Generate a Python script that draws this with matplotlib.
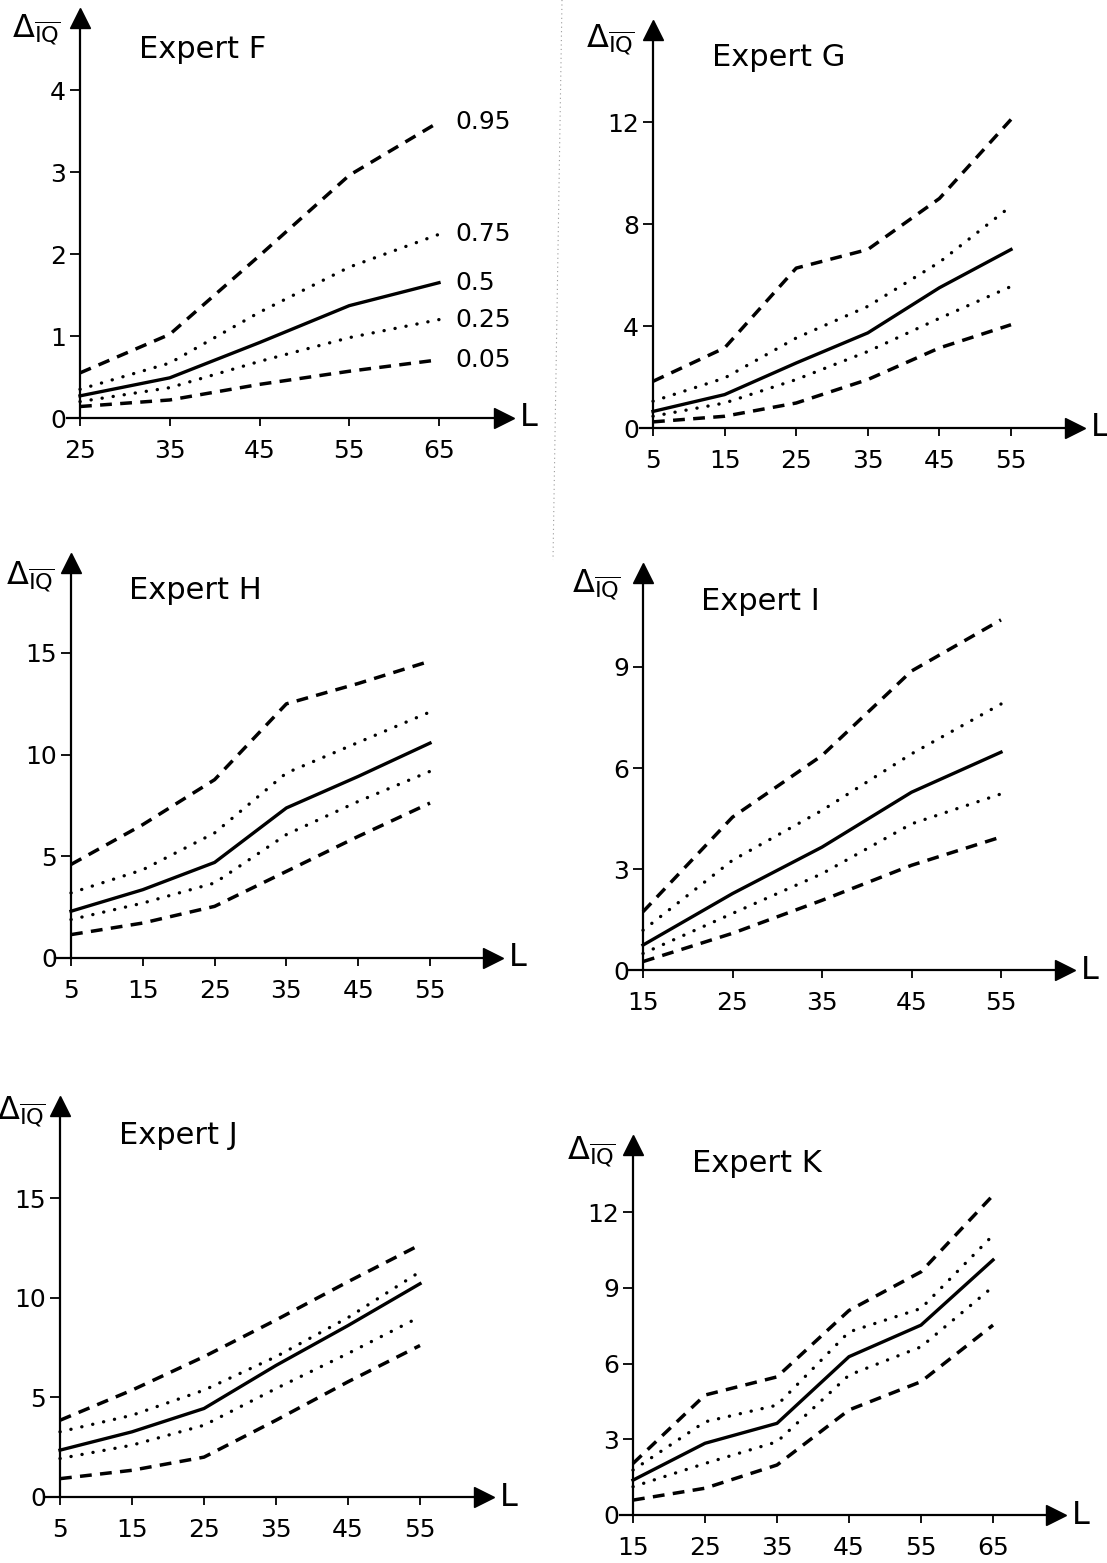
import matplotlib
matplotlib.use("Agg")
import matplotlib.pyplot as plt
from matplotlib.lines import Line2D

plt.rcParams['font.family'] = ['DejaVu Sans']
plt.rcParams['mathtext.fontset'] = 'dejavusans'

# ---------------- data ----------------
quantiles = ["0.95", "0.75", "0.5", "0.25", "0.05"]

L_F = [25, 35, 45, 55, 65]
F_q95 = [0.55, 1.02, 1.98, 2.96, 3.61]
F_q75 = [0.35, 0.67, 1.29, 1.84, 2.24]
F_q50 = [0.27, 0.49, 0.92, 1.37, 1.65]
F_q25 = [0.20, 0.37, 0.69, 0.98, 1.20]
F_q05 = [0.14, 0.22, 0.41, 0.57, 0.71]

L_G = [5, 15, 25, 35, 45, 55]
G_q95 = [1.83, 3.14, 6.27, 7.0, 9.0, 12.1]
G_q75 = [1.05, 1.96, 3.53, 4.77, 6.5, 8.7]
G_q50 = [0.65, 1.31, 2.55, 3.73, 5.5, 7.0]
G_q25 = [0.46, 0.98, 1.9, 3.0, 4.3, 5.55]
G_q05 = [0.24, 0.46, 0.98, 1.9, 3.14, 4.05]

L_H = [5, 15, 25, 35, 45, 55]
H_q95 = [4.6, 6.56, 8.77, 12.5, 13.5, 14.6]
H_q75 = [3.2, 4.34, 6.15, 9.1, 10.6, 12.1]
H_q50 = [2.3, 3.36, 4.7, 7.38, 8.93, 10.57]
H_q25 = [1.89, 2.7, 3.69, 6.07, 7.7, 9.18]
H_q05 = [1.15, 1.72, 2.54, 4.26, 5.98, 7.62]

L_I = [15, 25, 35, 45, 55]
I_q95 = [1.73, 4.54, 6.37, 8.88, 10.4]
I_q75 = [1.18, 3.26, 4.74, 6.42, 7.9]
I_q50 = [0.74, 2.27, 3.65, 5.28, 6.47]
I_q25 = [0.49, 1.68, 2.86, 4.34, 5.23]
I_q05 = [0.25, 1.09, 2.07, 3.11, 3.95]

L_J = [5, 15, 25, 35, 45, 55]
J_q95 = [3.85, 5.36, 7.04, 8.88, 10.8, 12.65]
J_q75 = [3.27, 4.1, 5.36, 7.04, 9.0, 11.3]
J_q50 = [2.35, 3.27, 4.44, 6.6, 8.6, 10.7]
J_q25 = [1.93, 2.6, 3.6, 5.44, 7.2, 9.04]
J_q05 = [0.92, 1.34, 2.0, 3.85, 5.78, 7.6]

L_K = [15, 25, 35, 45, 55, 65]
K_q95 = [2.04, 4.75, 5.47, 8.1, 9.63, 12.66]
K_q75 = [1.78, 3.69, 4.35, 7.25, 8.18, 11.08]
K_q50 = [1.38, 2.84, 3.63, 6.27, 7.52, 10.1]
K_q25 = [1.12, 2.04, 2.9, 5.54, 6.66, 9.04]
K_q05 = [0.59, 1.06, 1.98, 4.16, 5.28, 7.52]

F_yticks = [0, 1, 2, 3, 4]
G_yticks = [0, 4, 8, 12]
H_yticks = [0, 5, 10, 15]
I_yticks = [0, 3, 6, 9]
J_yticks = [0, 5, 10, 15]
K_yticks = [0, 3, 6, 9, 12]

# ---------------- figure ----------------
W, H = 1107, 1563
fig = plt.figure(figsize=(W / 100, H / 100), dpi=100)
fig.patch.set_facecolor("white")

DASH = dict(color="black", lw=2.5, linestyle=(0, (3.4, 2.4)), dash_capstyle="butt")
DOT = dict(color="black", lw=2.4, linestyle=(0, (0.05, 3.3)), dash_capstyle="round")
SOLID = dict(color="black", lw=2.4, linestyle="-")
STYLES = [DASH, DOT, SOLID, DOT, DASH]

TICK_FS = 18
TITLE_FS = 22
LABEL_FS = 23
DELTA_FS = 23


def panel(title, L, series, yticks, xpx, ypx, xstart_px, xtip_px, ytip_px,
          title_xy, delta_xy, curve_labels=False):
    (xa, pxa), (xb, pxb) = xpx
    (ya, pya), (yb, pyb) = ypx
    sx = (pxb - pxa) / (xb - xa)
    sy = (pya - pyb) / (yb - ya)
    left, right = xstart_px - 2, xtip_px + 12
    top, bottom = ytip_px - 12, pya + 2
    xd = lambda px: xa + (px - pxa) / sx
    yd = lambda py: ya + (pya - py) / sy
    ax = fig.add_axes([left / W, 1 - bottom / H, (right - left) / W, (bottom - top) / H])
    ax.set_xlim(xd(left), xd(right))
    ax.set_ylim(yd(bottom), yd(top))
    ax.patch.set_alpha(0)
    for s in ["top", "right"]:
        ax.spines[s].set_visible(False)
    x0 = L[0]
    ax.spines["left"].set_position(("data", x0))
    ax.spines["bottom"].set_position(("data", 0))
    ax.spines["left"].set_bounds(0, yd(ytip_px))
    ax.spines["bottom"].set_bounds(xd(xstart_px), xd(xtip_px))
    for s in ["left", "bottom"]:
        ax.spines[s].set_linewidth(1.6)
    ax.plot([xd(xtip_px)], [0], marker=">", ms=14, color="black", clip_on=False, zorder=5)
    ax.plot([x0], [yd(ytip_px)], marker="^", ms=14, color="black", clip_on=False, zorder=5)

    ax.set_xticks(L)
    ax.set_xticklabels([str(v) for v in L])
    ax.set_yticks(yticks)
    ax.set_yticklabels([str(v) for v in yticks])
    ax.tick_params(axis="x", direction="out", length=6, width=1.3, pad=9, labelsize=TICK_FS)
    ax.tick_params(axis="y", direction="out", length=7, width=1.3, pad=3, labelsize=TICK_FS)

    for vals, st in zip(series, STYLES):
        ax.plot(L, vals, **st)

    if curve_labels:
        for vals, lab in zip(series, quantiles):
            ax.annotate(lab, xy=(L[-1], vals[-1]), xytext=(16, 0), textcoords="offset pixels",
                        fontsize=TICK_FS, va="center", ha="left")

    ax.text(xd(xtip_px + 16), 0, "L", fontsize=LABEL_FS, va="center", ha="left")
    fig.text(title_xy[0] / W, 1 - title_xy[1] / H, title, fontsize=TITLE_FS, va="center", ha="left")
    fig.text(delta_xy[0] / W, 1 - delta_xy[1] / H, r"$\Delta_{\overline{\mathrm{IQ}}}$",
             fontsize=DELTA_FS, va="center", ha="left")
    return ax


panel("Expert F", L_F, [F_q95, F_q75, F_q50, F_q25, F_q05], F_yticks,
      ((25, 80), (65, 439)), ((0, 418), (4, 90)), 67, 504, 18,
      (139, 50), (12, 30), curve_labels=True)

panel("Expert G", L_G, [G_q95, G_q75, G_q50, G_q25, G_q05], G_yticks,
      ((5, 653), (55, 1011)), ((0, 428), (12, 122)), 640, 1075, 30,
      (712, 57), (586, 40))

panel("Expert H", L_H, [H_q95, H_q75, H_q50, H_q25, H_q05], H_yticks,
      ((5, 71), (55, 430)), ((0, 958), (15, 653)), 55, 493, 563,
      (129, 590), (6, 577))

panel("Expert I", L_I, [I_q95, I_q75, I_q50, I_q25, I_q05], I_yticks,
      ((15, 643), (55, 1001)), ((0, 970), (9, 667)), 629, 1065, 573,
      (701, 602), (572, 585))

panel("Expert J", L_J, [J_q95, J_q75, J_q50, J_q25, J_q05], J_yticks,
      ((5, 60), (55, 420)), ((0, 1497), (15, 1198)), 45, 484, 1106,
      (119, 1135), (-3, 1112))

panel("Expert K", L_K, [K_q95, K_q75, K_q50, K_q25, K_q05], K_yticks,
      ((15, 633), (65, 993)), ((0, 1515), (12, 1212)), 620, 1056, 1145,
      (692, 1163), (567, 1152))

# faint dotted scan line between top panels
fig.add_artist(Line2D([562 / W, 553 / W], [1.0, 1 - 560 / H], color="0.6", lw=0.8,
                      linestyle=(0, (1, 3))))

fig.savefig("out.png", dpi=100, facecolor="white")
